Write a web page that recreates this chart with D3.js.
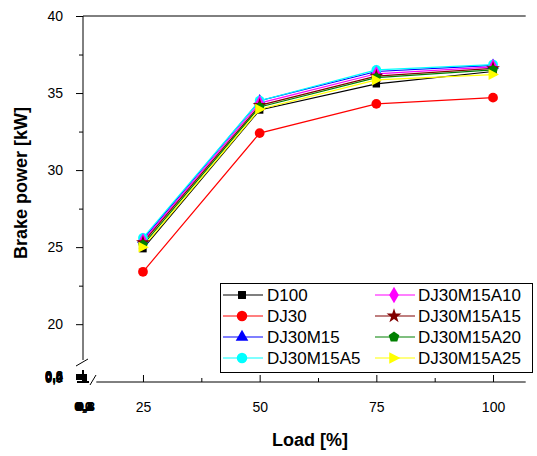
<!DOCTYPE html>
<html><head><meta charset="utf-8">
<script src="https://cdn.jsdelivr.net/npm/d3@7"></script>
<style>body{margin:0;background:#fff}svg{display:block;font-family:"Liberation Sans",Arial,sans-serif}</style>
</head><body><svg id="c" width="537" height="456"></svg>
<script>
const loads = [25, 50, 75, 100];
const seriesNames = ["D100","DJ30","DJ30M15","DJ30M15A5","DJ30M15A10","DJ30M15A15","DJ30M15A20","DJ30M15A25"];
const D100 = [24.9, 33.9, 35.6, 36.4];
const DJ30 = [23.4, 32.4, 34.3, 34.7];
const DJ30M15 = [25.5, 34.5, 36.4, 36.8];
const DJ30M15A5 = [25.6, 34.5, 36.5, 36.85];
const DJ30M15A10 = [25.4, 34.35, 36.25, 36.7];
const DJ30M15A15 = [25.3, 34.2, 36.1, 36.6];
const DJ30M15A20 = [25.15, 34.1, 36.0, 36.5];
const DJ30M15A25 = [25.0, 33.95, 35.85, 36.2];
const colors = ["#000000","#ff0000","#0000ff","#00ffff","#ff00ff","#800000","#008000","#ffff00"];
const yTicks = [20, 25, 30, 35, 40];
const xTicks = [25, 50, 75, 100];
const lowTicks = [0, 0.2, 0.4, 0.6, 0.8];
const values = [D100, DJ30, DJ30M15, DJ30M15A5, DJ30M15A10, DJ30M15A15, DJ30M15A20, DJ30M15A25];

const svg = d3.select("#c");
const x = d3.scaleLinear().domain([15, 107]).range([96.3, 525.7]);
const y = d3.scaleLinear().domain([18, 40]).range([355, 16]);
const xLow = d3.scaleLinear().domain([0, 0.8]).range([82.5, 85.5]);
const yLow = d3.scaleLinear().domain([0, 0.8]).range([378, 375]);
const X0 = 83, Y0 = 382;

const pentagon = {draw(ctx, size){const r=Math.sqrt(size/2.378);for(let i=0;i<5;i++){const a=-Math.PI/2+i*2*Math.PI/5;const px=r*Math.cos(a),py=r*Math.sin(a);i?ctx.lineTo(px,py):ctx.moveTo(px,py);}ctx.closePath();}};
const triRight = {draw(ctx,size){const h=Math.sqrt(size*1.3);ctx.moveTo(h*0.6,0);ctx.lineTo(-h*0.45,-h*0.55);ctx.lineTo(-h*0.45,h*0.55);ctx.closePath();}};
const symbols = [d3.symbolSquare, d3.symbolCircle, d3.symbolTriangle, d3.symbolCircle, d3.symbolDiamond, d3.symbolStar, pentagon, triRight];
const sizes = [55, 75, 60, 75, 70, 60, 65, 75];

const g = svg.append("g");
g.append("line").attr("x1",X0).attr("x2",x(107)).attr("y1",y(40)).attr("y2",y(40)).attr("stroke","#000").attr("stroke-width",1);

const yAx = g.append("g").attr("transform",`translate(${X0},0)`)
  .call(d3.axisLeft(y).tickValues(d3.range(20,40.1,2.5)).tickSize(7).tickFormat(d=>yTicks.includes(d)?d:""));
yAx.select(".domain").attr("d",`M0,${y(40)}V${y(18)+5}`);
yAx.selectAll(".tick").filter(d=>!yTicks.includes(d)).select("line").attr("x2",-4);
yAx.selectAll("text").attr("x",-20).style("font-size","14px").attr("fill","#000");

const xAx = g.append("g").attr("transform",`translate(0,${Y0})`)
  .call(d3.axisBottom(x).tickValues(d3.range(25,100.1,12.5)).tickSize(-7).tickFormat(d=>xTicks.includes(d)?d:""));
xAx.select(".domain").attr("d",`M${x(15)},0H${x(107)}`);
xAx.selectAll(".tick").filter(d=>!xTicks.includes(d)).select("line").attr("y2",-4);
xAx.selectAll("text").attr("y",20).style("font-size","14px").attr("fill","#000");

// broken-axis low segments
const yLowAx = g.append("g").attr("transform",`translate(${X0},0)`)
  .call(d3.axisLeft(yLow).tickValues(lowTicks).tickSize(7).tickFormat(d=>d3.format(".1f")(d).replace(".",",")));
yLowAx.select(".domain").attr("d",`M0,370V${Y0}`).attr("stroke-width",2);
yLowAx.selectAll(".tick line").attr("stroke-width",3);
yLowAx.selectAll("text").attr("x",-20).style("font-size","13px").style("font-weight","bold").attr("fill","#000");
const xLowAx = g.append("g").attr("transform",`translate(0,${Y0})`)
  .call(d3.axisBottom(xLow).tickValues(lowTicks).tickSize(-8).tickFormat(d=>d3.format(".1f")(d).replace(".",",")));
xLowAx.select(".domain").attr("d",`M${X0-6},0H${X0+6}`).attr("stroke-width",2);
xLowAx.selectAll(".tick line").attr("stroke-width",2);
xLowAx.selectAll("text").attr("y",20).style("font-size","13px").style("font-weight","bold").attr("fill","#000");
g.append("line").attr("x1",76).attr("y1",366).attr("x2",88).attr("y2",359).attr("stroke","#000");
g.append("line").attr("x1",90).attr("y1",385).attr("x2",96).attr("y2",375).attr("stroke","#000");
g.selectAll(".domain").attr("stroke","#000");

const line = d3.line().x((d,i)=>x(loads[i])).y(d=>y(d));
values.forEach((vals,k)=>{
  g.append("path").datum(vals).attr("d",line).attr("fill","none").attr("stroke",colors[k]).attr("stroke-width",1.2);
});
values.forEach((vals,k)=>{
  g.selectAll(null).data(vals).enter().append("path")
    .attr("d",d3.symbol().type(symbols[k]).size(sizes[k]))
    .attr("transform",(d,i)=>`translate(${x(loads[i])},${y(d)})`)
    .attr("fill",colors[k]);
});

svg.append("text").attr("x",310).attr("y",446).attr("text-anchor","middle").style("font-size","18px").style("font-weight","bold").text("Load [%]");
svg.append("text").attr("transform","translate(27,183) rotate(-90)").attr("text-anchor","middle").style("font-size","18px").style("font-weight","bold").text("Brake power [kW]");

const lg = svg.append("g");
lg.append("rect").attr("x",220.5).attr("y",283.5).attr("width",312).attr("height",89).attr("fill","#fff").attr("stroke","#000");
const rowY = [295, 316, 337, 358];
seriesNames.forEach((n,k)=>{
  const col = Math.floor(k/4), row = k%4;
  const lx = col ? 375 : 223, mx = col ? 394 : 242, tx = col ? 418 : 267;
  const yy = rowY[row];
  lg.append("line").attr("x1",lx).attr("x2",lx+40).attr("y1",yy).attr("y2",yy).attr("stroke",colors[k]).attr("stroke-width",1.2);
  lg.append("path").attr("d",d3.symbol().type(symbols[k]).size(sizes[k]*1.15)).attr("transform",`translate(${mx},${yy})`).attr("fill",colors[k]);
  lg.append("text").attr("x",tx).attr("y",yy+6).style("font-size","17px").attr("fill","#000").text(n);
});
</script></body></html>
